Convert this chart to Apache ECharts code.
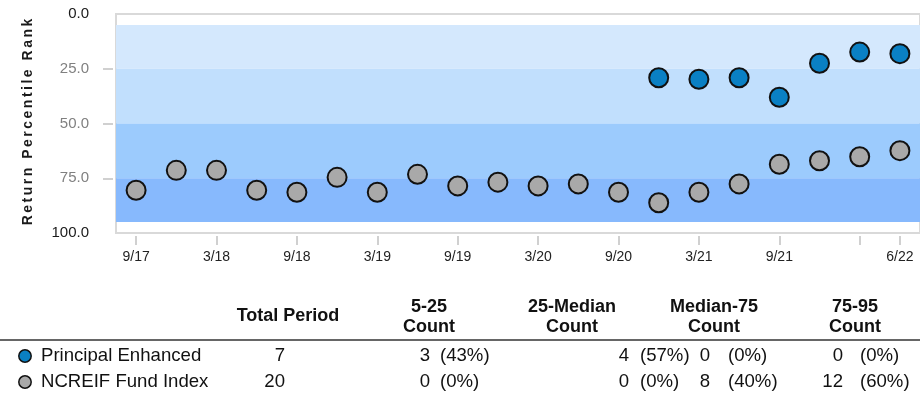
<!DOCTYPE html>
<html>
<head>
<meta charset="utf-8">
<script src="https://cdn.jsdelivr.net/npm/echarts@6/dist/echarts.min.js"></script>
<style>
  html, body { margin: 0; padding: 0; background: #fff; }
  #chart { width: 920px; height: 393px; }
</style>
</head>
<body>
<div id="chart"></div>
<script>
// Quarter-end dates on the x axis
const quarters = ['9/17', '12/17', '3/18', '6/18', '9/18', '12/18', '3/19', '6/19', '9/19', '12/19',
                  '3/20', '6/20', '9/20', '12/20', '3/21', '6/21', '9/21', '12/21', '3/22', '6/22'];

// Return percentile rank per quarter (null = no observation)
const principalEnhanced = [null, null, null, null, null, null, null, null, null, null,
                           null, null, null, 29.1, 29.8, 29.1, 38.0, 22.5, 17.4, 18.1];
const ncreifFundIndex = [80.5, 71.4, 71.4, 80.5, 81.4, 74.6, 81.4, 73.2, 78.5, 76.8,
                         78.5, 77.6, 81.4, 86.2, 81.4, 77.6, 68.6, 67.0, 65.2, 62.4];

const seriesNames = ['Principal Enhanced', 'NCREIF Fund Index'];
const rankTicks = [0, 25, 50, 75, 100];
const quartileBands = [[5, 25], [25, 50], [50, 75], [75, 95]];
const bandHeaders = ['5-25', '25-Median', 'Median-75', '75-95'];

// ---- styling ----
const FONT = '"Liberation Sans", Arial, Helvetica, sans-serif';
const bandFill = ['#d4e8fd', '#c1dffd', '#9ccbfd', '#87b9fd'];
const markerFill = ['#0a80c4', '#a9a9a9'];

const chart = echarts.init(document.getElementById('chart'), null, { renderer: 'canvas' });

const last = quarters.length - 1;
const tickAt = (i) => i % 2 === 0 || i === last;
const labelAt = (i) => (i % 2 === 0 && i < last - 1) || i === last;

// counts of observations falling in each quartile band
function bandCounts(values) {
  const v = values.filter((x) => x !== null);
  return quartileBands.map(([lo, hi], k) =>
    v.filter((x) => x >= lo && (k === quartileBands.length - 1 ? x <= hi : x < hi)).length);
}

// rotated axis title with extra letter spacing, one glyph per text element
function spacedVerticalTitle(text, cx, cy, font, spacing, fill) {
  const ctx = document.createElement('canvas').getContext('2d');
  ctx.font = font;
  const chars = Array.from(text);
  const widths = chars.map((ch) => ctx.measureText(ch).width);
  const total = widths.reduce((a, b) => a + b, 0) + spacing * (chars.length - 1);
  let x = -total / 2;
  const children = chars.map((ch, i) => {
    const el = { type: 'text', x: x, y: 0, silent: true,
      style: { text: ch, font: font, fill: fill, textAlign: 'left', textVerticalAlign: 'middle' } };
    x += widths[i] + spacing;
    return el;
  });
  return { type: 'group', x: cx, y: cy, rotation: Math.PI / 2, children: children };
}

// summary table beneath the plot
function tableGraphics() {
  const els = [];
  const headFont = 'bold 18px ' + FONT;
  const cellFont = '18.6px ' + FONT;
  const ink = '#111';
  els.push({ type: 'text', x: 288, y: 316, silent: true,
    style: { text: 'Total Period', font: headFont, fill: ink, textAlign: 'center', textVerticalAlign: 'middle' } });
  const headCenters = [429, 572, 714, 855];
  bandHeaders.forEach((h, k) => {
    els.push({ type: 'text', x: headCenters[k], y: 307, silent: true,
      style: { text: h, font: headFont, fill: ink, textAlign: 'center', textVerticalAlign: 'middle' } });
    els.push({ type: 'text', x: headCenters[k], y: 327, silent: true,
      style: { text: 'Count', font: headFont, fill: ink, textAlign: 'center', textVerticalAlign: 'middle' } });
  });
  els.push({ type: 'line', silent: true, shape: { x1: 0, y1: 340, x2: 920, y2: 340 },
    style: { stroke: '#333', lineWidth: 1.5 } });

  const rows = [principalEnhanced, ncreifFundIndex];
  const rowY = [356, 382];
  const countRight = [430, 629, 710, 843];
  const pctLeft = [440, 640, 728, 860];
  rows.forEach((vals, r) => {
    const y = rowY[r];
    els.push({ type: 'circle', silent: true, shape: { cx: 25, cy: y, r: 6.2 },
      style: { fill: markerFill[r], stroke: '#111', lineWidth: 1.5 } });
    els.push({ type: 'text', x: 41, y: y, silent: true,
      style: { text: seriesNames[r], font: cellFont, fill: ink, textAlign: 'left', textVerticalAlign: 'middle' } });
    const n = vals.filter((x) => x !== null).length;
    els.push({ type: 'text', x: 285, y: y, silent: true,
      style: { text: String(n), font: cellFont, fill: ink, textAlign: 'right', textVerticalAlign: 'middle' } });
    bandCounts(vals).forEach((c, k) => {
      els.push({ type: 'text', x: countRight[k], y: y, silent: true,
        style: { text: String(c), font: cellFont, fill: ink, textAlign: 'right', textVerticalAlign: 'middle' } });
      els.push({ type: 'text', x: pctLeft[k], y: y, silent: true,
        style: { text: '(' + Math.round((c / n) * 100) + '%)', font: cellFont, fill: ink, textAlign: 'left', textVerticalAlign: 'middle' } });
    });
  });
  return els;
}

const toSeriesData = (arr) => arr.map((v) => (v === null ? '-' : v));

const option = {
  animation: false,
  backgroundColor: '#fff',
  grid: {
    left: 116, top: 14, width: 808, height: 219,
    show: true, borderColor: '#d9d9d9', borderWidth: 2, backgroundColor: '#fff'
  },
  xAxis: {
    type: 'category',
    position: 'bottom',
    data: quarters,
    boundaryGap: true,
    offset: 3,
    axisLine: { show: false, onZero: false },
    axisTick: { show: true, alignWithLabel: true, length: 9, interval: (i) => tickAt(i),
      lineStyle: { color: '#d0d0d0', width: 2 } },
    axisLabel: { interval: (i) => labelAt(i), margin: 14, color: '#222', fontSize: 14, fontFamily: FONT },
    splitLine: { show: false }
  },
  yAxis: {
    type: 'value',
    inverse: true,
    min: 0, max: 100, interval: 25,
    offset: 3,
    axisLine: { show: false, onZero: false },
    axisTick: { show: true, length: 10, customValues: [25, 50, 75],
      lineStyle: { color: '#d0d0d0', width: 2 } },
    axisLabel: {
      customValues: rankTicks,
      margin: 24, fontSize: 15, fontFamily: FONT,
      formatter: (v) => Number(v).toFixed(1),
      color: (v) => (Number(v) === 0 || Number(v) === 100 ? '#1a1a1a' : '#808080')
    },
    splitLine: { show: false }
  },
  series: [
    {
      name: seriesNames[1],
      type: 'scatter',
      data: toSeriesData(ncreifFundIndex),
      symbol: 'circle',
      symbolSize: 19,
      itemStyle: { color: markerFill[1], borderColor: '#111', borderWidth: 2, opacity: 1 },
      emphasis: { disabled: true },
      markArea: {
        silent: true,
        data: quartileBands.map(([a, b], k) => [
          { yAxis: a, itemStyle: { color: bandFill[k], opacity: 1 } },
          { yAxis: b }
        ])
      },
      z: 3
    },
    {
      name: seriesNames[0],
      type: 'scatter',
      data: toSeriesData(principalEnhanced),
      symbol: 'circle',
      symbolSize: 19,
      itemStyle: { color: markerFill[0], borderColor: '#111', borderWidth: 2, opacity: 1 },
      emphasis: { disabled: true },
      z: 4
    }
  ],
  graphic: [
    spacedVerticalTitle('Return Percentile Rank', 28, 122, 'bold 14px ' + FONT, 2.5, '#1a1a1a')
  ].concat(tableGraphics())
};

chart.setOption(option);
</script>
</body>
</html>
